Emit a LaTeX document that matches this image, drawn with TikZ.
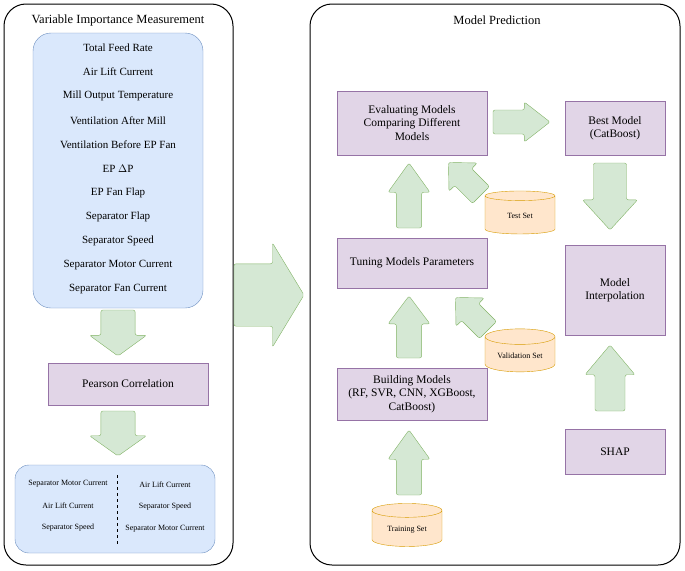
\documentclass[tikz,border=0pt]{standalone}
\usepackage{fontspec}
\setmainfont{Liberation Serif}
\usetikzlibrary{positioning,shapes.geometric}

\definecolor{grnfill}{HTML}{D5E8D4}
\definecolor{grnline}{HTML}{82B366}
\definecolor{purfill}{HTML}{E1D5E7}
\definecolor{purline}{HTML}{9673A6}
\definecolor{blufill}{HTML}{DAE8FC}
\definecolor{bluline}{HTML}{6C8EBF}
\definecolor{orgfill}{HTML}{FFE6CC}
\definecolor{orgline}{HTML}{D79B00}

\tikzset{
  panel/.style={draw,line width=1pt,rounded corners=22pt},
  stage/.style={draw=purline,fill=purfill,align=center,font=\fontsize{11.5}{13.5}\selectfont,inner sep=0pt},
  item/.style={font=\fontsize{11}{13}\selectfont},
  small/.style={font=\fontsize{8}{10}\selectfont},
  dataset/.style={cylinder,shape border rotate=90,aspect=0.3,draw=orgline,fill=orgfill,
    minimum width=70pt,minimum height=43pt,font=\fontsize{8}{10}\selectfont},
  fat/.style={draw=grnline,fill=grnfill,rounded corners=2pt},
}
% block arrow: start, angle, length, width
\newcommand{\fatarrow}[4]{%
  \begin{scope}[shift={#1},rotate=#2,xscale=#3,yscale=#4]
    \draw[fat] (0,-0.3) -- (0.55,-0.3) -- (0.55,-0.5) -- (1,0) -- (0.55,0.5)
      -- (0.55,0.3) -- (0,0.3) -- cycle;
  \end{scope}}

\begin{document}
\begin{tikzpicture}[x=1pt,y=-1pt]
  \useasboundingbox (0,0) rectangle (685,570);
%
  \draw[panel] (4,4) rectangle (233,565);
  \node[font=\fontsize{12.5}{14}\selectfont] (ltitle) at (118,20) {Variable Importance Measurement};
  \draw[panel] (310,4) rectangle (680,565);
  \node[font=\fontsize{12.5}{14}\selectfont] (rtitle) at (497,20) {Model Prediction};
%
  \draw[draw=bluline,fill=blufill,rounded corners=18pt] (33,33) rectangle (203,308);
  \foreach \t [count=\i] in {Total Feed Rate,Air Lift Current,Mill Output Temperature,
      Ventilation After Mill,Ventilation Before EP Fan,EP $\Delta$P,EP Fan Flap,
      Separator Flap,Separator Speed,Separator Motor Current,Separator Fan Current}
    \node[item] (v\i) at (118,{48+24.1*(\i-1)}) {\t};
%
  \node[stage,minimum width=160pt,minimum height=42pt] (pearson) at (128,384) {Pearson Correlation};
  \fatarrow{(118,310)}{-90}{46}{57}
  \fatarrow{(118,411)}{-90}{45}{57}
%
  \draw[draw=bluline,fill=blufill,rounded corners=14pt] (15,465) rectangle (215,553);
  \draw[dashed] (117,475) -- (117,545);
  \node[small] (s1) at (68,484) {Separator Motor Current};
  \node[small] (s2) at (68,506) {Air Lift Current};
  \node[small] (s3) at (68,528) {Separator Speed};
  \node[small] (s4) at (165,485) {Air Lift Current};
  \node[small] (s5) at (165,507) {Separator Speed};
  \node[small] (s6) at (165,529) {Separator Motor Current};
%
  \fatarrow{(234,295)}{0}{70}{104}
%
  \node[stage,minimum width=150pt,minimum height=64pt] (eval) at (412,123)
    {Evaluating Models\\Comparing Different\\Models};
  \node[stage,minimum width=150pt,minimum height=50pt] (tune) at (412,263) {Tuning Models Parameters};
  \node[stage,minimum width=150pt,minimum height=52pt] (build) at (412,394)
    {Building Models\\(RF, SVR, CNN, XGBoost,\\CatBoost)};
  \node[stage,minimum width=100pt,minimum height=54pt] (best) at (615,128) {Best Model\\(CatBoost)};
  \node[stage,minimum width=100pt,minimum height=90pt] (interp) at (615,290) {Model\\Interpolation};
  \node[stage,minimum width=100pt,minimum height=45pt] (shap) at (615,452) {SHAP};
%
  \node[dataset] (test) at (520,216) {Test Set};
  \node[dataset] (valid) at (520,356) {Validation Set};
  \node[dataset] (train) at (407,530) {Training Set};
%
  \fatarrow{(409,228)}{90}{65}{42}
  \fatarrow{(409,358)}{90}{62}{42}
  \fatarrow{(409,495)}{90}{65}{42}
  \fatarrow{(481,195)}{135}{46}{40}
  \fatarrow{(488,330)}{135}{46}{40}
  \fatarrow{(493,122)}{0}{57}{40}
  \fatarrow{(610,163)}{-90}{67}{55}
  \fatarrow{(610,411)}{90}{66}{50}
\end{tikzpicture}
\end{document}
